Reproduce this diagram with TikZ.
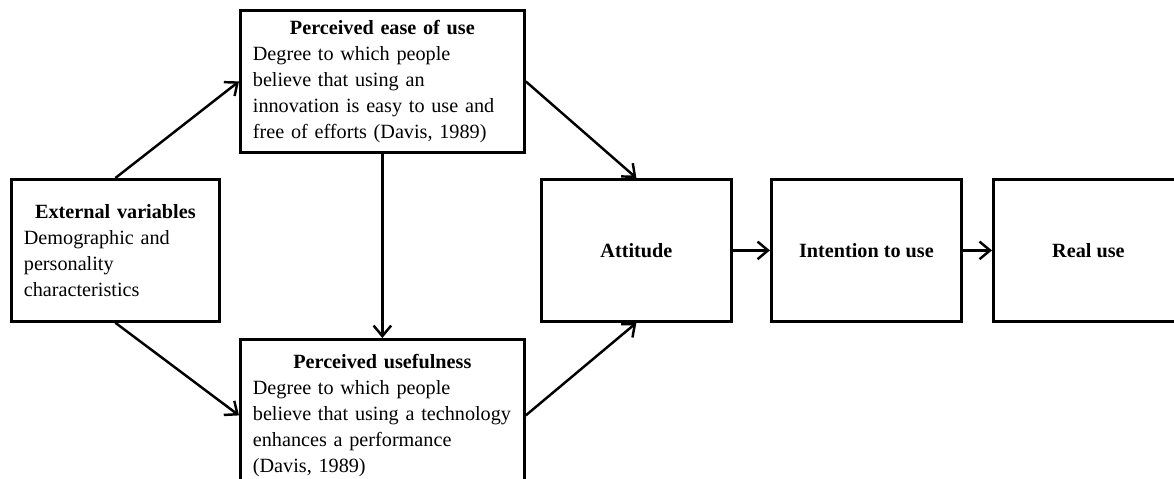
\documentclass[tikz,border=0pt]{standalone}
\usepackage{fontspec}
\setmainfont{Liberation Serif}
\usetikzlibrary{arrows.meta}

\begin{document}
\begin{tikzpicture}[x=0.02cm,y=-0.02cm,
        box/.style={draw,line width=1.6pt,inner sep=0pt,anchor=north west,
            font=\fontsize{11.5}{14.7}\selectfont},
        textbox/.style={box,align=left,inner xsep=0.25cm},
        stage/.style={box,minimum width=3.8cm,minimum height=2.84cm,
            font=\fontsize{11.5}{14.7}\selectfont\bfseries},
        link/.style={-{Straight Barb[length=6pt,width=10pt]},line width=1.4pt}]
    \useasboundingbox (0,0) rectangle (1174,478);
    \clip (0,0) rectangle (1174,478);
    \node[textbox,text width=3.66cm,minimum height=2.84cm] (ext) at (10,178)
        {{\centering\bfseries External variables\par}Demographic and\\personality\\characteristics};
    \node[textbox,text width=5.18cm,minimum height=2.84cm] (peou) at (239,9)
        {{\centering\bfseries Perceived ease of use\par}Degree to which people\\believe that using an\\innovation is easy to use and\\free of efforts (Davis, 1989)};
    \node[textbox,text width=5.18cm,minimum height=3.04cm] (pu) at (239,338)
        {{\centering\bfseries Perceived usefulness\par}Degree to which people\\believe that using a technology\\enhances a performance\\(Davis, 1989)};
    \node[stage] (att) at (540,178) {Attitude};
    \node[stage] (int) at (770,178) {Intention to use};
    \node[stage] (real) at (992,178) {Real use};
    \path[link]
        (ext.north) edge (peou.west)
        (ext.south) edge (pu.west)
        (peou.south) edge (pu.north)
        (peou.east) edge (att.north)
        (pu.east) edge (att.south)
        (att.east) edge (int.west)
        (int.east) edge (real.west);
\end{tikzpicture}
\end{document}
